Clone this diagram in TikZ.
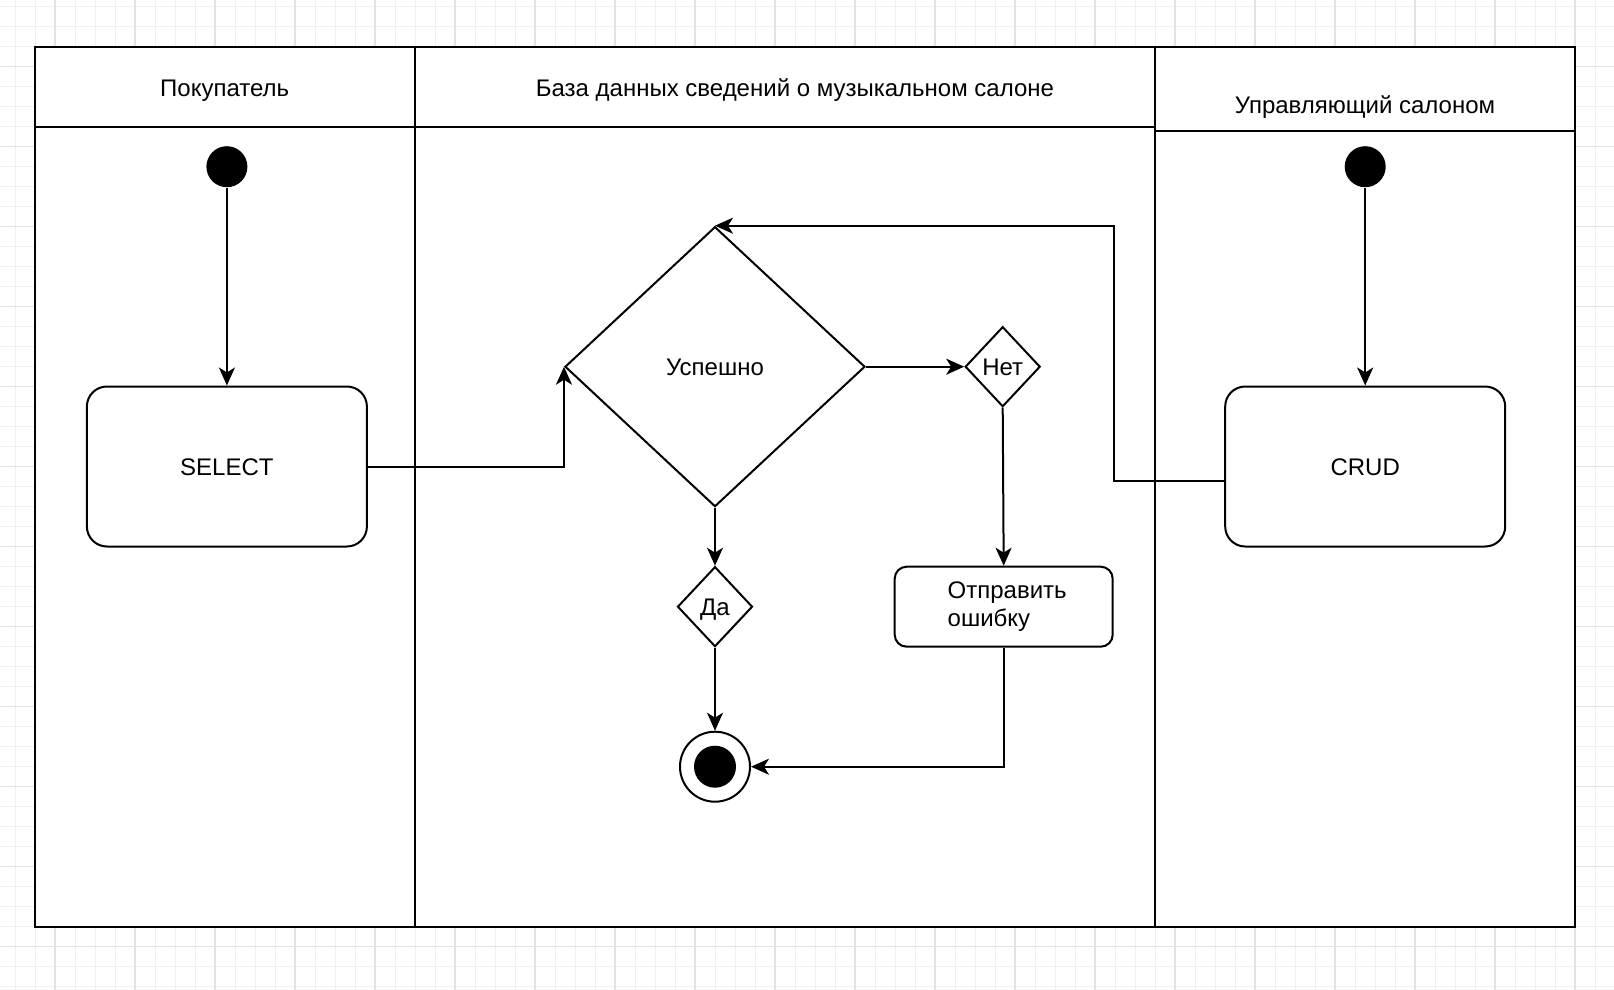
\documentclass[tikz,border=0pt]{standalone}
\usepackage{fontspec}
\setmainfont{Liberation Sans}
\usepackage{tikz}
\usetikzlibrary{arrows.meta,shapes.geometric}

\begin{document}
\begin{tikzpicture}[x=0.5pt,y=-0.5pt,line width=1pt,
  font=\fontsize{12}{14}\selectfont,
  >={Stealth[length=9pt,width=8pt,inset=2.5pt]},
  lanetitle/.style={text height=8.6pt,text depth=0pt},
  startdot/.style={circle,fill=black,inner sep=0pt,minimum size=20.5pt},
  activity/.style={draw,rounded corners=10pt,minimum width=140pt,minimum height=80pt,
    text height=8.6pt,text depth=0pt},
  decision/.style={draw,diamond,inner sep=0pt,minimum width=37.5pt,minimum height=40pt,
    text height=8.6pt,text depth=0pt}]
\useasboundingbox (0,0) rectangle (1614,990);
% background grid
\foreach \gx in {15,35,...,1595} \draw[line width=0.5pt,black!6] (\gx,0) -- (\gx,990);
\foreach \gy in {6.7,26.7,...,990} \draw[line width=0.5pt,black!6] (0,\gy) -- (1614,\gy);
\foreach \gx in {55,135,...,1595} \draw[line width=0.6pt,black!11] (\gx,0) -- (\gx,990);
\foreach \gy in {66.7,146.7,...,990} \draw[line width=0.6pt,black!11] (0,\gy) -- (1614,\gy);
% swimlanes
\filldraw[fill=white] (34.7,46.7) rectangle (1575,926.7);
\draw (414.8,46.7) -- (414.8,926.7);
\draw (1155,46.7) -- (1155,926.7);
\draw (34.7,126.7) -- (1155,126.7);
\draw (1155,130.7) -- (1575,130.7);
\node[lanetitle] (buyer) at (224.7,88.3) {Покупатель};
\node[lanetitle] (db) at (795,88.3) {База данных сведений о музыкальном салоне};
\node[lanetitle] (manager) at (1365,105) {Управляющий салоном};
% nodes
\node[startdot] (start1) at (226.9,166.7) {};
\node[startdot] (start2) at (1365.2,166.7) {};
\node[activity] (select) at (226.9,466.5) {SELECT};
\node[activity] (crud) at (1365.2,466.5) {CRUD};
\node[draw,diamond,inner sep=0pt,minimum width=150pt,minimum height=140pt,
  text height=8.6pt,text depth=0pt] (ok) at (715,366.7) {Успешно};
\node[decision] (no) at (1002.7,366.7) {Нет};
\node[decision] (yes) at (715,606.7) {Да};
\node[draw,rounded corners=6pt,minimum width=109pt,minimum height=40pt,align=left]
  (err) at (1003.7,606.7) {\hspace*{3.5pt}Отправить\\\hspace*{3.5pt}ошибку};
\node[circle,draw,inner sep=0pt,minimum size=35pt] (final) at (715,766.7) {};
\fill (final.center) circle (10.5pt);
% connectors
\draw[->] (start1) -- (select);
\draw[->] (start2) -- (crud);
\draw[->] (select.east) -| (ok.west);
\draw[->] ([yshift=-7pt]crud.west) -- ++(-110.7,0) |- (ok.north);
\draw[->] (ok.east) -- (no.west);
\draw[->] (ok.south) -- (yes.north);
\draw[->] (no.south) -- (err.north);
\draw[->] (yes.south) -- (final.north);
\draw[->] (err.south) |- (final.east);
\end{tikzpicture}
\end{document}
